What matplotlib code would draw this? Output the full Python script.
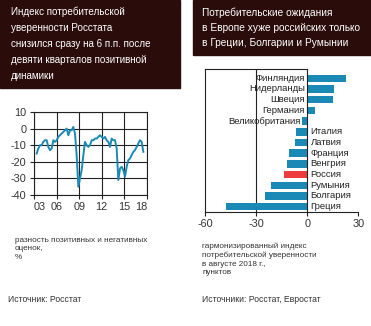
import matplotlib
matplotlib.use("Agg")
import matplotlib.pyplot as plt
import numpy as np

plt.rcParams['font.family'] = ['Liberation Sans Narrow', 'Liberation Sans', 'DejaVu Sans']

# quarterly consumer confidence index (Rosstat)
confidence = [-15, -12, -10, -10, -8, -7, -7, -11, -13, -12,
              -7, -8, -7, -5, -4, -3, -2, -1, 0, -4,
              -1, -1, 1, -3, -16, -35, -30, -25, -16, -8,
              -10, -11, -10, -7, -7, -6, -6, -5, -4, -5,
              -6, -5, -7, -8, -11, -6, -7, -7, -12, -31,
              -24, -23, -25, -29, -23, -19, -18, -16, -14, -13,
              -11, -9, -7, -8, -14]
year_labels = ['03', '06', '09', '12', '15', '18']

countries = ['Финляндия', 'Нидерланды', 'Швеция', 'Германия', 'Великобритания',
             'Италия', 'Латвия', 'Франция', 'Венгрия', 'Россия',
             'Румыния', 'Болгария', 'Греция']
index_aug2018 = [23, 16, 15, 4.5, -3, -6.7, -7, -10.4, -11.8, -13.7, -21, -24.7, -47.5]

blue = '#1b89b5'
red = '#ee3b3b'
dark = '#2a0d0b'

fig = plt.figure(figsize=(3.71, 3.26), dpi=100)
W, H = 371, 326

def fx(px):
    return px / W

def fy(py):
    return 1 - py / H

# title boxes
fig.patches.append(plt.Rectangle((0, fy(88)), fx(180), 88 / H, transform=fig.transFigure,
                                 color=dark, zorder=0))
fig.patches.append(plt.Rectangle((fx(193), fy(55)), fx(178), 55 / H, transform=fig.transFigure,
                                 color=dark, zorder=0))

left_title = ['Индекс потребительской', 'уверенности Росстата',
              'снизился сразу на 6 п.п. после', 'девяти кварталов позитивной', 'динамики']
for k, line in enumerate(left_title):
    fig.text(fx(11), fy(12 + 16 * k), line, color='white', fontsize=7.1, va='center')

right_title = ['Потребительские ожидания', 'в Европе хуже российских только',
               'в Греции, Болгарии и Румынии']
for k, line in enumerate(right_title):
    fig.text(fx(202), fy(12.5 + 15.5 * k), line, color='white', fontsize=7.3, va='center')

# left chart: line
ax1 = fig.add_axes([fx(33.5), fy(195), fx(113.5), 83 / H])
x = np.arange(len(confidence))
ax1.plot(x, confidence, color=blue, lw=1.4, zorder=3)
ax1.set_xlim(-1.9, 66.2)
ax1.set_ylim(-40, 10)
ax1.set_yticks([10, 0, -10, -20, -30, -40])
ax1.set_yticklabels(['10', '0', '-10', '-20', '-30', '-40'])
ax1.set_xticks([-1.9, 12, 25.6, 39, 52.6, 66.2])
ax1.set_xticklabels(year_labels)
tl = ax1.get_xticklabels()
tl[0].set_ha('left')
tl[-1].set_ha('right')
ax1.grid(True, color='#222222', lw=0.8)
for s in ax1.spines.values():
    s.set_color('#222222')
    s.set_linewidth(0.8)
ax1.tick_params(labelsize=7.8, length=3, width=0.8, color='#222222', pad=2, labelcolor='#333333')

fig.text(fx(15), fy(237), 'разность позитивных и негативных\nоценок,\n%', fontsize=5.9,
         color='#333333', va='top', linespacing=1.3)
fig.text(fx(8), fy(300), 'Источник: Росстат', fontsize=6.2, color='#333333', va='center')

# right chart: bars
ax2 = fig.add_axes([fx(205), fy(211.7), fx(153.3), 142.4 / H])
y = np.arange(len(countries))
colors = [red if c == 'Россия' else blue for c in countries]
ax2.barh(y, index_aug2018, height=0.7, color=colors, zorder=3)
ax2.set_xlim(-60, 30)
ax2.set_ylim(len(countries) - 0.53, -0.84)
ax2.set_xticks([-60, -30, 0, 30])
ax2.set_xticklabels(['-60', '-30', '0', '30'])
ax2.set_yticks([])
ax2.axvline(-30, color='#222222', lw=0.8, zorder=1)
ax2.axvline(0, color='#222222', lw=0.8, zorder=4)
ax2.spines['right'].set_visible(False)
ax2.spines['top'].set_bounds(-60, 0)
for s in ax2.spines.values():
    s.set_color('#222222')
    s.set_linewidth(0.8)
ax2.tick_params(axis='x', labelsize=7.8, length=3, width=0.8, color='#222222', pad=2,
                labelcolor='#333333')
for yi, (name, v) in enumerate(zip(countries, index_aug2018)):
    if v > 0:
        ax2.text(-1.5, yi, name, ha='right', va='center', fontsize=6.8, color='#222222', zorder=5)
    elif v > -5:
        ax2.text(v - 0.8, yi, name, ha='right', va='center', fontsize=6.8, color='#222222', zorder=5)
    else:
        ax2.text(2, yi, name, ha='left', va='center', fontsize=6.8, color='#222222', zorder=5)

fig.text(fx(202), fy(243), 'гармонизированный индекс\nпотребительской уверенности\nв августе 2018 г.,\nпунктов',
         fontsize=5.9, color='#333333', va='top', linespacing=1.25)
fig.text(fx(202), fy(300), 'Источники: Росстат, Евростат', fontsize=6.2, color='#333333', va='center')

fig.savefig('out.png', dpi=100)
